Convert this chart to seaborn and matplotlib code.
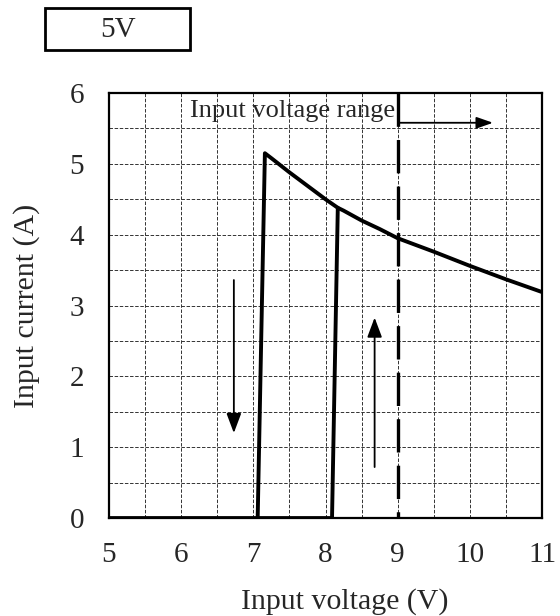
import numpy as np
import pandas as pd
import seaborn as sns
import matplotlib.pyplot as plt
from matplotlib.patches import Rectangle

# data
fall_v = [5.0, 7.06, 7.16, 7.25, 7.5, 7.75, 8.0, 8.17, 8.25, 8.5, 8.75,
          9.0, 9.5, 10.0, 10.5, 11.0]
fall_i = [0.0, 0.0, 5.15, 5.08, 4.88, 4.69, 4.50, 4.38, 4.34, 4.20, 4.08,
          3.95, 3.76, 3.56, 3.37, 3.19]
rise_v = [7.06, 8.09, 8.17]
rise_i = [0.0, 0.0, 4.38]
range_start = 9.0
x_ticks = [5, 6, 7, 8, 9, 10, 11]
y_ticks = [0, 1, 2, 3, 4, 5, 6]

sns.set_style("white")
plt.rcParams['font.family'] = ['Liberation Serif', 'DejaVu Serif']
plt.rcParams['lines.scale_dashes'] = False

df_fall = pd.DataFrame({"v": fall_v, "i": fall_i})
df_rise = pd.DataFrame({"v": rise_v, "i": rise_i})

fig = plt.figure(figsize=(5.6, 6.16), dpi=100)
ax = fig.add_axes([0.1946, 0.159, 0.7734, 0.690])

# grid every 0.5
ax.set_xticks(np.arange(5, 11.01, 0.5), minor=True)
ax.set_yticks(np.arange(0, 6.01, 0.5), minor=True)
ax.grid(which="both", color="#333333", linestyle=(0, (2.5, 1.2)), linewidth=0.7)
ax.set_axisbelow(True)

sns.lineplot(data=df_fall, x="v", y="i", sort=False, estimator=None,
             color="black", linewidth=2.8, ax=ax, solid_joinstyle="round")
sns.lineplot(data=df_rise, x="v", y="i", sort=False, estimator=None,
             color="black", linewidth=2.8, ax=ax, solid_joinstyle="round")

ax.plot([range_start, range_start], [6, 0], color="black", linewidth=2.4,
        linestyle=(0, (24, 9.5)), dash_capstyle="butt")

ax.set_xlim(5, 11)
ax.set_ylim(0, 6)
ax.set_xticks(x_ticks)
ax.set_yticks(y_ticks)
ax.set_xticklabels([str(t) for t in x_ticks])
ax.set_yticklabels([str(t) for t in y_ticks])
ax.tick_params(which="major", direction="in", length=7, width=1,
               labelsize=21, color="black")
ax.tick_params(axis="x", pad=17)
ax.tick_params(axis="y", pad=18)
ax.tick_params(which="minor", length=0)
for s in ax.spines.values():
    s.set_linewidth(1.6)
    s.set_color("black")

ax.set_xlabel("Input voltage (V)", fontsize=21.5)
ax.set_ylabel("Input current (A)", fontsize=21.5, labelpad=21)
ax.xaxis.set_label_coords(0.545, -0.165)

# annotations
ax.text(6.12, 5.66, "Input voltage range", fontsize=19, va="baseline", ha="left")
arr = dict(arrowstyle="-|>,head_length=1.2,head_width=0.45", color="black",
           lw=1.3, mutation_scale=10, shrinkA=0, shrinkB=0)
ax.annotate("", xy=(10.32, 5.58), xytext=(9.03, 5.58),
            arrowprops=dict(arr, arrowstyle="-|>,head_length=1.0,head_width=0.35"))
ax.annotate("", xy=(6.73, 1.2), xytext=(6.73, 3.36), arrowprops=arr)
ax.annotate("", xy=(8.68, 2.83), xytext=(8.68, 0.72), arrowprops=arr)

# output voltage box
fig.patches.append(Rectangle((45 / 560, 1 - 50 / 616), 145 / 560, 42 / 616,
                             transform=fig.transFigure, fill=False,
                             edgecolor="black", linewidth=2))
fig.text(118 / 560, 1 - 30 / 616, "5V", fontsize=21, ha="center", va="center")

fig.savefig("out.png", dpi=100)
